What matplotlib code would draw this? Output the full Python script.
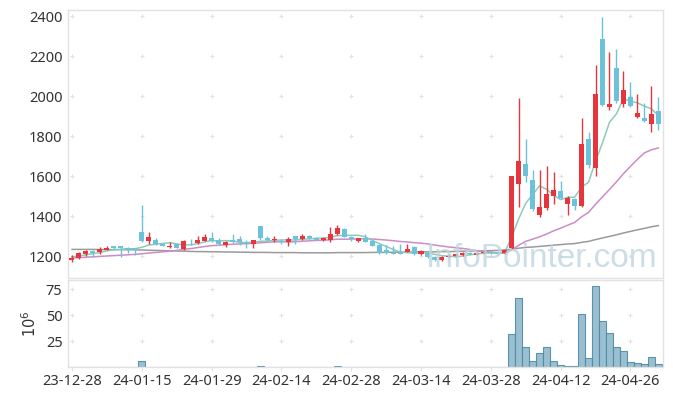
import numpy as np
import pandas as pd
import matplotlib
matplotlib.use("Agg")
import matplotlib.pyplot as plt

plt.rcParams['font.family'] = ['Noto Sans', 'DejaVu Sans']

# ---------------- data ----------------
opens = [1180, 1188, 1208, 1225, 1218, 1232, 1248, 1248, 1242, 1238,
         1322, 1277, 1280, 1262, 1243, 1258, 1235, 1262, 1263, 1277,
         1292, 1280, 1255, 1280, 1285, 1268, 1260, 1350, 1292, 1278,
         1275, 1272, 1300, 1285, 1300, 1292, 1278, 1280, 1308, 1335,
         1297, 1275, 1288, 1277, 1255, 1230, 1215, 1214, 1222, 1247,
         1210, 1217, 1197, 1178, 1193, 1200, 1205, 1215, 1207, 1215,
         1220, 1215, 1213, 1240, 1560, 1660, 1580, 1405, 1440, 1500,
         1525, 1460, 1485, 1450, 1785, 1640, 2285, 1945, 2140, 1960,
         1995, 1895, 1890, 1860, 1925]
highs = [1203, 1218, 1228, 1232, 1245, 1248, 1250, 1250, 1246, 1240,
         1455, 1318, 1290, 1265, 1270, 1265, 1280, 1285, 1302, 1310,
         1320, 1290, 1275, 1310, 1302, 1280, 1282, 1352, 1300, 1300,
         1285, 1297, 1302, 1310, 1305, 1295, 1295, 1347, 1355, 1338,
         1300, 1292, 1310, 1280, 1258, 1255, 1250, 1258, 1258, 1250,
         1230, 1220, 1200, 1200, 1208, 1212, 1220, 1220, 1220, 1228,
         1225, 1220, 1235, 1600, 1990, 1785, 1630, 1630, 1650, 1620,
         1575, 1500, 1490, 1890, 1820, 2155, 2395, 2220, 2235, 2125,
         2070, 2010, 1965, 2050, 1995]
lows = [1172, 1185, 1200, 1197, 1212, 1228, 1235, 1197, 1213, 1205,
        1270, 1262, 1253, 1248, 1240, 1238, 1232, 1255, 1260, 1273,
        1272, 1255, 1247, 1265, 1255, 1238, 1238, 1280, 1275, 1268,
        1260, 1248, 1258, 1282, 1285, 1278, 1275, 1268, 1305, 1295,
        1277, 1270, 1270, 1250, 1212, 1210, 1208, 1208, 1218, 1206,
        1206, 1188, 1175, 1175, 1188, 1195, 1200, 1205, 1203, 1212,
        1210, 1205, 1210, 1235, 1445, 1570, 1425, 1395, 1430, 1460,
        1485, 1405, 1430, 1445, 1640, 1600, 1950, 1930, 1965, 1945,
        1945, 1890, 1870, 1820, 1830]
closes = [1192, 1215, 1225, 1215, 1235, 1240, 1238, 1238, 1232, 1232,
          1277, 1295, 1258, 1252, 1252, 1242, 1275, 1258, 1280, 1297,
          1277, 1260, 1272, 1268, 1268, 1262, 1280, 1288, 1278, 1285,
          1268, 1285, 1285, 1300, 1290, 1282, 1288, 1310, 1338, 1297,
          1285, 1288, 1272, 1252, 1215, 1213, 1212, 1210, 1233, 1208,
          1227, 1195, 1178, 1197, 1202, 1208, 1215, 1210, 1215, 1222,
          1214, 1211, 1230, 1600, 1675, 1600, 1435, 1445, 1510, 1530,
          1490, 1490, 1450, 1760, 1655, 2010, 1955, 1960, 1975, 2030,
          1950, 1915, 1875, 1910, 1860]
# volume in millions
volumes = [0.2, 0.2, 0.2, 0.2, 0.2, 0.2, 0.2, 0.2, 0.2, 0.2,
           6.0, 0.3, 0.2, 0.2, 0.2, 0.2, 0.2, 0.2, 0.2, 0.2,
           0.2, 0.2, 0.2, 0.2, 0.2, 0.2, 0.2, 1.0, 0.2, 0.2,
           0.2, 0.2, 0.2, 0.2, 0.2, 0.2, 0.2, 0.3, 1.0, 0.3,
           0.2, 0.2, 0.2, 0.2, 0.2, 0.2, 0.2, 0.2, 0.2, 0.2,
           0.2, 0.2, 0.2, 0.2, 0.2, 0.2, 0.2, 0.2, 0.2, 0.2,
           0.2, 0.2, 0.3, 31.7, 67.0, 19.0, 5.8, 13.2, 19.0, 5.8,
           1.6, 1.0, 1.0, 51.6, 8.3, 78.0, 44.0, 33.3, 19.0, 15.0,
           4.8, 3.5, 2.6, 9.3, 2.6]
# moving-average values at the start of the window (they depend on earlier data)
ma5_head = [1195, 1200, 1206, 1212]
ma20_head = [1190, 1192, 1194, 1196, 1198, 1200, 1202, 1204, 1206, 1208,
             1211, 1215, 1218, 1221, 1224, 1228, 1233, 1237, 1242]
ma_long = [1233, 1233, 1233, 1233, 1232, 1232, 1232, 1232, 1231, 1231,
           1230, 1229, 1228, 1227, 1226, 1225, 1224, 1223, 1222, 1222,
           1221, 1221, 1220, 1220, 1219, 1219, 1218, 1218, 1218, 1217,
           1217, 1217, 1217, 1216, 1216, 1216, 1216, 1216, 1217, 1217,
           1217, 1217, 1217, 1218, 1218, 1218, 1219, 1219, 1219, 1220,
           1220, 1221, 1221, 1222, 1222, 1223, 1224, 1224, 1225, 1226,
           1227, 1228, 1230, 1234, 1239, 1243, 1245, 1248, 1251, 1254,
           1257, 1260, 1262, 1268, 1273, 1282, 1290, 1298, 1306, 1315,
           1323, 1331, 1338, 1346, 1352]
x_tick_labels = ['23-12-28', '24-01-15', '24-01-29', '24-02-14', '24-02-28',
                 '24-03-14', '24-03-28', '24-04-12', '24-04-26']
price_ticks = [1200, 1400, 1600, 1800, 2000, 2200, 2400]
vol_ticks = [25, 50, 75]

# ---------------- derived ----------------
n = len(closes)
idx = np.arange(n)
cs = pd.Series(closes, dtype=float)
ma5 = cs.rolling(5).mean().values
ma5[:len(ma5_head)] = ma5_head
ma20 = cs.rolling(20).mean().values
ma20[:len(ma20_head)] = ma20_head
x_ticks = np.arange(0, 10 * len(x_tick_labels), 10)

UP = '#e8343b'
DOWN = '#6cc2d9'
GRID = '#e2e2e2'
SPINE = '#e2e2e2'
TXT = '#333333'

fig = plt.figure(figsize=(6.73, 3.96), dpi=100)
ax = fig.add_axes([68 / 673, 1 - 278 / 396, (663 - 68) / 673, (278 - 10) / 396])
axv = fig.add_axes([68 / 673, 1 - 367 / 396, (663 - 68) / 673, (367 - 280) / 396])

xlim = (-0.57, 84.67)

# grid "+" markers
for a, yt in ((ax, price_ticks), (axv, vol_ticks)):
    gx, gy = np.meshgrid(x_ticks, yt)
    a.scatter(gx.ravel(), gy.ravel(), marker='+', s=12, color=GRID, linewidths=0.8, zorder=0)

# moving averages
ax.plot(idx, ma_long, color='#9a9a9a', lw=1.1, zorder=1)
ax.plot(idx, ma20, color='#cc8cc5', lw=1.1, zorder=1)
ax.plot(idx, ma5, color='#8ccbba', lw=1.1, zorder=1)

# candles
w = 0.72
for i in range(n):
    o, h, l, c = opens[i], highs[i], lows[i], closes[i]
    col = UP if c >= o else DOWN
    ax.vlines(i, l, h, color=col, lw=1.0, zorder=2)
    lo = min(o, c)
    hgt = max(abs(c - o), 3)
    ax.bar(i, hgt, bottom=lo, width=w, color=col, edgecolor='none', zorder=3)

ax.text(0.99, 0.015, 'InfoPointer.com', transform=ax.transAxes, ha='right', va='bottom',
        fontsize=24, color='#bfd5df', alpha=0.8, family=['Liberation Sans', 'DejaVu Sans'], zorder=5)

ax.set_xlim(*xlim)
ax.set_ylim(1090, 2430)
ax.set_yticks(price_ticks)
ax.set_yticklabels([str(v) for v in price_ticks])
ax.set_xticks(x_ticks)
ax.tick_params(axis='x', labelbottom=False, length=0)
ax.tick_params(axis='y', length=0, labelsize=10.5, colors=TXT, pad=4)

# volume
axv.bar(idx, volumes, width=1.0, color='#8fb8cb', edgecolor='#4f8aa6', linewidth=0.8, alpha=0.9, zorder=2)
axv.set_xlim(*xlim)
axv.set_ylim(0, 84)
axv.set_yticks(vol_ticks)
axv.set_yticklabels([str(v) for v in vol_ticks])
axv.set_xticks(x_ticks)
axv.set_xticklabels(x_tick_labels)
axv.tick_params(axis='y', length=0, labelsize=10.5, colors=TXT, pad=4)
axv.tick_params(axis='x', length=3, color=SPINE, labelsize=10.5, labelcolor=TXT, pad=2)
axv.set_ylabel(r'$10^6$', fontsize=10.5, color=TXT, labelpad=4)

for a in (ax, axv):
    for s in a.spines.values():
        s.set_color(SPINE)
        s.set_linewidth(1.0)

fig.savefig('out.png', dpi=100)
